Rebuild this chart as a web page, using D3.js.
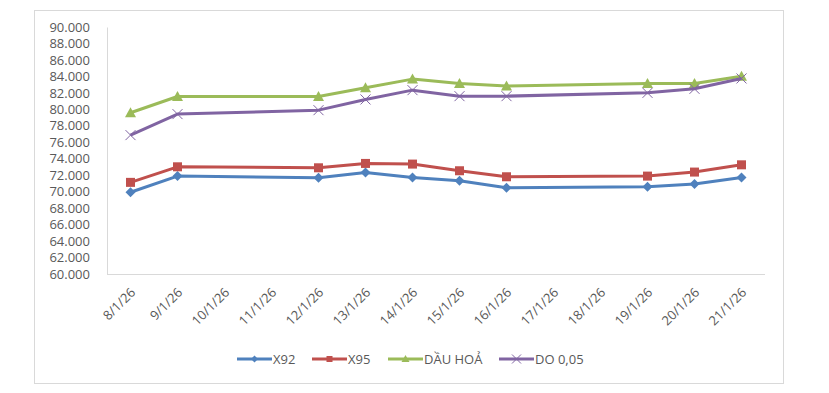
<!DOCTYPE html>
<html>
<head>
<meta charset="utf-8">
<script src="https://cdn.jsdelivr.net/npm/d3@7"></script>
<style>
  body { margin: 0; background: #fff; }
  text { font-family: "Open Sans", "Liberation Sans", Arial, sans-serif; }
</style>
</head>
<body>
<div class="chart"></div>
<script>
const W = 829, H = 393;
const plot = {left: 107, right: 765, top: 27, bottom: 274};

// categories on the axis (every day), and days that have prices
const days = ['8/1/26','9/1/26','10/1/26','11/1/26','12/1/26','13/1/26','14/1/26',
              '15/1/26','16/1/26','17/1/26','18/1/26','19/1/26','20/1/26','21/1/26'];
const priceDays = ['8/1/26','9/1/26','12/1/26','13/1/26','14/1/26','15/1/26','16/1/26',
                   '19/1/26','20/1/26','21/1/26'];

const x92    = [69930, 71890, 71690, 72340, 71730, 71320, 70470, 70600, 70920, 71730];
const x95    = [71130, 73020, 72900, 73430, 73350, 72540, 71810, 71890, 72380, 73260];
const dauHoa = [79580, 81560, 81560, 82610, 83670, 83140, 82820, 83140, 83140, 84030];
const do005  = [76870, 79420, 79900, 81200, 82330, 81600, 81600, 82000, 82490, 83750];

const yTicks = d3.range(60000, 90001, 2000);

const series = [
    {name: 'X92', values: x92, color: '#4F81BD', marker: 'diamond'},
    {name: 'X95', values: x95, color: '#C0504D', marker: 'square'},
    {name: 'DẦU HOẢ', values: dauHoa, color: '#9BBB59', marker: 'triangle'},
    {name: 'DO 0,05', values: do005, color: '#8064A2', marker: 'x'}
];

const svg = d3.select('.chart').append('svg')
    .attr('width', W)
    .attr('height', H);

// chart frame
svg.append('rect')
    .attr('x', 34.5).attr('y', 10.5)
    .attr('width', 749).attr('height', 373)
    .attr('fill', '#fff')
    .attr('stroke', '#d9d9d9');

const xScale = d3.scalePoint()
    .domain(days)
    .range([plot.left, plot.right])
    .padding(0.5);

const yScale = d3.scaleLinear()
    .domain([60000, 90000])
    .range([plot.bottom, plot.top]);

const loc = d3.formatLocale({decimal: ',', thousands: '.', grouping: [3], currency: ['', '']});
const fmt = loc.format(',.0f');

// y axis
svg.append('g')
    .attr('transform', `translate(${plot.left},0)`)
    .call(d3.axisLeft(yScale).tickValues(yTicks).tickFormat(fmt).tickSize(0).tickPadding(17))
    .call(g => g.select('.domain').attr('stroke', '#d9d9d9'))
    .selectAll('text')
    .attr('font-size', 13)
    .attr('fill', '#595959')
    .attr('font-family', '"Open Sans", "Liberation Sans", Arial, sans-serif');

// x axis
svg.append('g')
    .attr('transform', `translate(0,${plot.bottom})`)
    .call(d3.axisBottom(xScale).tickSize(0).tickPadding(0))
    .call(g => g.select('.domain').attr('d', `M${plot.left},0.5H${plot.right}`).attr('stroke', '#d9d9d9'))
    .selectAll('text')
    .attr('font-size', 13)
    .attr('fill', '#595959')
    .attr('font-family', '"Open Sans", "Liberation Sans", Arial, sans-serif')
    .attr('text-anchor', 'end')
    .attr('dy', '0.35em')
    .attr('transform', 'translate(2,16) rotate(-45)');

const line = d3.line()
    .x((d, i) => xScale(priceDays[i]))
    .y(d => yScale(d));

function drawMarker(g, type, color, size) {
    const s = size / 2;
    if (type === 'diamond') {
        g.append('path').attr('d', `M0,${-s-0.5}L${s+0.5},0L0,${s+0.5}L${-s-0.5},0Z`).attr('fill', color);
    } else if (type === 'square') {
        g.append('rect').attr('x', -s).attr('y', -s).attr('width', size).attr('height', size).attr('fill', color);
    } else if (type === 'triangle') {
        g.append('path').attr('d', `M0,${-s-1}L${s+1},${s}L${-s-1},${s}Z`).attr('fill', color);
    } else {
        g.append('path').attr('d', `M${-s},${-s}L${s},${s}M${s},${-s}L${-s},${s}`)
            .attr('stroke', color).attr('stroke-width', 1).attr('fill', 'none');
    }
}

series.forEach(s => {
    svg.append('path')
        .datum(s.values)
        .attr('fill', 'none')
        .attr('stroke', s.color)
        .attr('stroke-width', 3)
        .attr('stroke-linejoin', 'round')
        .attr('d', line);

    svg.append('g')
        .selectAll('g')
        .data(s.values)
        .join('g')
        .attr('transform', (d, i) => `translate(${xScale(priceDays[i])},${yScale(d)})`)
        .each(function() { drawMarker(d3.select(this), s.marker, s.color, s.marker === 'x' ? 10 : 9); });
});

// legend
const legendX = [237, 312, 388, 499];
const legend = svg.append('g').attr('transform', 'translate(0,359)');
series.forEach((s, i) => {
    const g = legend.append('g').attr('transform', `translate(${legendX[i]},0)`);
    g.append('line').attr('x1', 0).attr('x2', 35).attr('y1', 0).attr('y2', 0)
        .attr('stroke', s.color).attr('stroke-width', 3);
    const m = g.append('g').attr('transform', 'translate(17.5,0)');
    drawMarker(m, s.marker, s.color, s.marker === 'x' ? 9 : 6);
    g.append('text')
        .attr('x', 36).attr('y', 0).attr('dy', '0.35em')
        .attr('font-size', 13)
        .attr('fill', '#595959')
        .text(s.name);
});
</script>
</body>
</html>
